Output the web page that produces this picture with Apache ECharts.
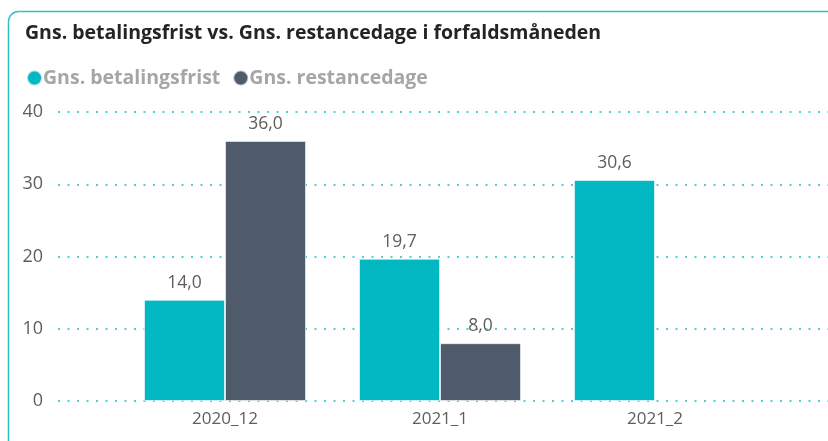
<!DOCTYPE html>
<html>
<head>
<meta charset="utf-8">
<script src="https://cdn.jsdelivr.net/npm/echarts@6/dist/echarts.min.js"></script>
<style>
    html, body {margin: 0; padding: 0; background: #fff;}
    #app {width: 828px; height: 441px;}
</style>
</head>
<body>
<div id="app"></div>
<script>
// data
const categories = ['2020_12', '2021_1', '2021_2'];
const betalingsfrist = [14.0, 19.7, 30.6];
const restancedage = [36.0, 8.0, null];
const yTicks = {min: 0, max: 40, interval: 10};

const teal = '#01B8C3';
const slate = '#4F5A6B';
const labelColor = '#605E5C';
const font = '"Open Sans", "Noto Sans", sans-serif';

const chart = echarts.init(document.getElementById('app'), null, {renderer: 'canvas'});

const dataLabel = {
    show: true,
    position: 'top',
    distance: 8,
    color: labelColor,
    fontSize: 17.5,
    fontFamily: font,
    formatter: (p) => p.value == null ? '' : p.value.toFixed(1).replace('.', ',')
};

chart.setOption({
    animation: false,
    title: {
        text: 'Gns. betalingsfrist vs. Gns. restancedage i forfaldsmåneden',
        left: 20,
        top: 18,
        textStyle: {fontSize: 19.5, fontWeight: 'bold', color: '#252423', fontFamily: font}
    },
    legend: {
        left: 21,
        top: 63,
        icon: 'circle',
        itemWidth: 15,
        itemHeight: 15,
        itemGap: 12,
        textStyle: {fontSize: 19.5, fontWeight: 'bold', color: '#A6A6A6', fontFamily: font, padding: [0, 0, 0, -4]},
        data: ['Gns. betalingsfrist', 'Gns. restancedage']
    },
    graphic: [{
        type: 'rect',
        shape: {x: 8.5, y: 11.5, width: 900, height: 500, r: 10},
        style: {fill: 'none', stroke: '#2CC2CB', lineWidth: 1.5},
        silent: true
    }],
    grid: [
        {left: 58, right: -20, top: 112, height: 289},
        {left: 117.5, width: 645, top: 112, height: 289}
    ],
    xAxis: [
        {type: 'value', gridIndex: 0, show: false, min: 0, max: 1},
        {
            type: 'category',
            gridIndex: 1,
            data: categories,
            axisLine: {show: false},
            axisTick: {show: false},
            axisLabel: {color: labelColor, fontSize: 17, fontFamily: font, margin: 10}
        }
    ],
    yAxis: [
        {
            type: 'value',
            gridIndex: 0,
            min: yTicks.min,
            max: yTicks.max,
            interval: yTicks.interval,
            axisLine: {show: false},
            axisTick: {show: false},
            axisLabel: {color: labelColor, fontSize: 18, fontFamily: font, margin: 15},
            splitLine: {lineStyle: {color: '#55CFD6', width: 2, type: [2, 7.5]}}
        },
        {
            type: 'value',
            gridIndex: 1,
            min: yTicks.min,
            max: yTicks.max,
            show: false
        }
    ],
    series: [
        {
            name: 'Gns. betalingsfrist',
            type: 'bar',
            xAxisIndex: 1,
            yAxisIndex: 1,
            data: betalingsfrist,
            barWidth: 81,
            barGap: '0%',
            itemStyle: {color: teal, borderColor: 'rgba(255,255,255,0.6)', borderWidth: 1},
            label: dataLabel
        },
        {
            name: 'Gns. restancedage',
            type: 'bar',
            xAxisIndex: 1,
            yAxisIndex: 1,
            data: restancedage,
            barWidth: 81,
            barGap: '0%',
            itemStyle: {color: slate, borderColor: 'rgba(255,255,255,0.6)', borderWidth: 1},
            label: dataLabel
        }
    ]
});
</script>
</body>
</html>
